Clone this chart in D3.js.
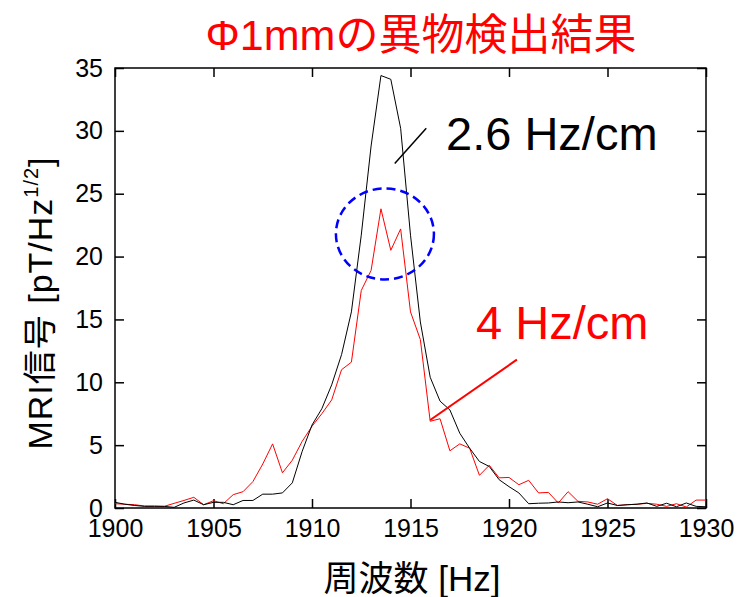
<!DOCTYPE html>
<html><head><meta charset="utf-8">
<script src="https://cdn.jsdelivr.net/npm/d3@7"></script>
<style>body{margin:0;background:#fff}text{font-family:"Liberation Sans","Noto Sans CJK JP",Arial,sans-serif}</style>
</head><body><svg id="c" width="739" height="597"></svg>
<script>
// Frequency samples (Hz), 0.5 Hz spacing
const freqs = d3.range(61).map(i => 1900 + i * 0.5);
const black26 = [0.45,0.3,0.2,0.13,0.13,0.13,0.05,0.4,0.63,0.26,0.45,0.45,0.26,0.6,0.6,1.1,1.1,1.2,2.0,4.5,6.6,7.9,9.8,12.2,15.6,21.7,28.8,34.4,34.1,30.2,21.7,14.8,10.4,8.5,7.8,5.95,4.76,3.7,3.3,2.25,1.7,1.2,0.34,0.38,0.4,0.48,0.42,0.48,0.3,0.1,0.4,0.2,0.26,0.3,0.4,0.13,0.38,0.1,0.4,0.13,0.1];
const red4 = [0.34,0.3,0.26,0.16,0.16,0.13,0.37,0.6,0.85,0.26,0.58,0.34,1.06,1.3,2.1,3.5,5.1,2.8,3.8,5.3,6.5,7.5,8.6,11.0,11.6,17.3,18.9,23.8,20.5,22.2,15.6,13.4,6.9,7.1,4.55,5.1,4.76,2.6,3.4,2.4,2.43,1.85,2.2,1.2,1.24,0.4,1.3,0.53,0.48,0.3,0.74,0.2,0.26,0.3,0.37,0.3,0.13,0.34,0.08,0.63,0.63];
const xTicks = [1900,1905,1910,1915,1920,1925,1930];
const yTicks = [0,5,10,15,20,25,30,35];
const titleText = "Φ1mmの異物検出結果";
const xLabel = "周波数 [Hz]";
const label26 = "2.6 Hz/cm", label4 = "4 Hz/cm";

const svg = d3.select("#c");
const L = 115, R = 706, T = 68, B = 508;
const x = d3.scaleLinear().domain([1900,1930]).range([L,R]);
const y = d3.scaleLinear().domain([0,35]).range([B,T]);
const fam = "'Liberation Sans','Noto Sans CJK JP',Arial,sans-serif";

// title
svg.append("text").attr("x",421).attr("y",50).attr("text-anchor","middle")
  .attr("fill","#ff0000").style("font-family",fam)
  .style("font-size","43px").text(titleText);

// axes with inward ticks
const ax = svg.append("g");
ax.append("g").attr("transform",`translate(0,${B})`)
  .call(d3.axisBottom(x).tickValues(xTicks).tickSize(-9).tickPadding(11).tickFormat(d3.format("d")));
ax.append("g").attr("transform",`translate(0,${T})`)
  .call(d3.axisTop(x).tickValues(xTicks).tickSize(-9).tickFormat(""));
ax.append("g").attr("transform",`translate(${L},0)`)
  .call(d3.axisLeft(y).tickValues(yTicks).tickSize(-9).tickPadding(12));
ax.append("g").attr("transform",`translate(${R},0)`)
  .call(d3.axisRight(y).tickValues(yTicks).tickSize(-9).tickFormat(""));
ax.selectAll(".domain").remove();
ax.selectAll(".tick line").attr("stroke","#000").attr("stroke-width",1.5);
ax.selectAll(".tick text").attr("fill","#000").style("font-size","25px").style("font-family",fam);
svg.append("rect").attr("x",L).attr("y",T).attr("width",R-L).attr("height",B-T)
  .attr("fill","none").attr("stroke","#000").attr("stroke-width",1.5);

// lines
const line = (vals) => d3.line().x((d,i)=>x(freqs[i])).y(d=>y(d))(vals);
svg.append("path").attr("d",line(red4)).attr("fill","none").attr("stroke","#ff0000").attr("stroke-width",1);
svg.append("path").attr("d",line(black26)).attr("fill","none").attr("stroke","#000").attr("stroke-width",1);

// blue dashed ellipse
svg.append("ellipse").attr("cx",x(1913.6)+2).attr("cy",y(21.8)).attr("rx",49).attr("ry",45.5)
  .attr("fill","none").attr("stroke","#0000ff").attr("stroke-width",2.5).attr("stroke-dasharray","9,5");

// annotations
svg.append("line").attr("x1",x(1914.2)).attr("y1",y(27.4)).attr("x2",x(1915.8)).attr("y2",y(30.2))
  .attr("stroke","#000").attr("stroke-width",1.5);
svg.append("text").attr("x",446).attr("y",150).style("font-size","47px").attr("fill","#000").text(label26);
svg.append("line").attr("x1",x(1916)).attr("y1",y(7.0)).attr("x2",x(1920.4)).attr("y2",y(11.8))
  .attr("stroke","#ff0000").attr("stroke-width",2);
svg.append("text").attr("x",476).attr("y",339).style("font-size","47px").attr("fill","#ff0000").text(label4);

// axis labels
svg.append("text").attr("x",412).attr("y",591).attr("text-anchor","middle")
  .style("font-family",fam).style("font-size","35px").text(xLabel);
const yl = svg.append("text").attr("transform","translate(52,303) rotate(-90)").attr("text-anchor","middle")
  .style("font-family",fam).style("font-size","34px").style("letter-spacing","1px");
yl.append("tspan").text("MRI信号 [pT/Hz");
yl.append("tspan").attr("dy",-14).style("font-size","20px").text("1/2");
yl.append("tspan").attr("dy",14).text("]");
</script></body></html>
